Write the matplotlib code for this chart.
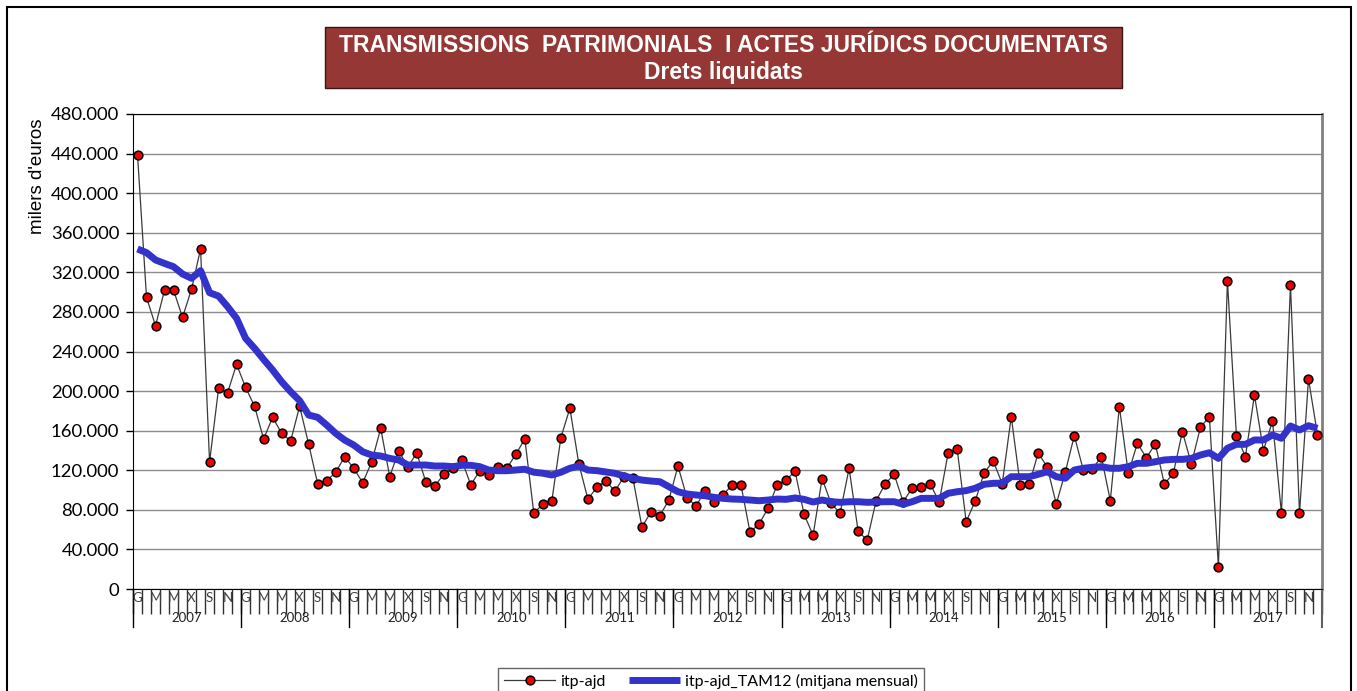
import numpy as np
import matplotlib
matplotlib.use("Agg")
import matplotlib.pyplot as plt
from matplotlib.patches import Rectangle
from matplotlib.ticker import FuncFormatter

W, H = 1357, 691

anys = [str(a) for a in range(2007, 2018)]
mesos = ['G', 'F', 'M', 'A', 'M', 'J', 'X', 'A', 'S', 'O', 'N', 'D']

# drets liquidats, milions d'euros (eix en milers d'euros)
itp_ajd = [
    438.9, 294.7, 266.0, 302.0, 302.0, 274.5, 303.0, 343.6, 128.3, 202.8, 198.4, 227.0,
    203.8, 184.6, 151.6, 173.5, 157.3, 149.6, 184.6, 146.5, 106.4, 109.5, 117.9, 133.7,
    122.0, 107.4, 128.3, 162.4, 113.5, 139.8, 123.0, 137.7, 108.4, 104.1, 115.9, 122.0,
    130.4, 105.1, 119.6, 115.5, 123.0, 122.0, 136.1, 151.6, 76.5, 85.9, 89.2, 152.9,
    182.6, 126.3, 90.9, 102.7, 109.5, 98.7, 113.5, 111.9, 62.6, 77.8, 74.1, 90.2,
    124.3, 92.3, 83.9, 99.0, 87.9, 95.0, 105.1, 105.1, 57.3, 65.7, 81.5, 105.1,
    110.0, 119.0, 75.5, 54.3, 111.5, 86.6, 76.5, 122.0, 58.6, 49.2, 89.2, 106.1,
    115.9, 88.2, 101.8, 102.8, 106.4, 87.9, 137.7, 141.2, 68.0, 88.9, 117.5, 129.3,
    106.4, 174.1, 105.1, 106.1, 137.7, 123.0, 85.9, 118.0, 155.0, 120.2, 121.0, 133.7,
    89.2, 184.3, 116.9, 147.2, 132.7, 146.5, 106.1, 116.9, 159.0, 126.3, 163.4, 174.1,
    22.5, 311.5, 154.9, 133.7, 196.0, 139.8, 169.8, 76.5, 307.5, 76.5, 212.2, 155.9,
]

tam12 = [
    343.6, 339.9, 332.5, 329.0, 325.7, 318.3, 314.0, 321.7, 299.4, 296.0, 285.3, 273.5,
    253.3, 243.2, 232.0, 221.3, 209.5, 199.4, 190.3, 175.8, 173.5, 165.7, 157.3, 150.5,
    145.5, 138.7, 135.4, 134.4, 132.0, 130.4, 125.3, 125.3, 125.3, 124.3, 124.3, 123.6,
    125.0, 125.0, 123.6, 120.2, 119.5, 119.5, 120.2, 121.0, 118.0, 117.0, 115.2, 118.0,
    122.0, 124.3, 120.2, 119.6, 118.2, 116.9, 114.2, 111.9, 110.1, 109.1, 108.4, 103.4,
    98.3, 96.0, 95.0, 94.3, 92.6, 91.6, 90.9, 90.6, 89.9, 89.2, 89.9, 90.9,
    90.6, 92.0, 90.6, 87.9, 89.9, 88.2, 87.6, 88.2, 88.2, 87.6, 87.9, 88.2,
    88.2, 85.6, 88.2, 91.6, 91.6, 91.6, 96.7, 98.3, 99.4, 101.8, 105.8, 106.8,
    107.0, 113.5, 113.5, 113.5, 115.9, 118.5, 113.5, 111.9, 120.2, 122.0, 123.0, 123.6,
    122.0, 122.0, 123.6, 127.0, 127.0, 128.6, 130.4, 131.0, 131.0, 132.0, 135.4, 137.7,
    132.0, 142.2, 146.2, 146.2, 150.6, 150.6, 155.6, 152.3, 164.7, 160.7, 165.0, 162.4,
]

y1 = np.array(itp_ajd) * 1000
y2 = np.array(tam12) * 1000
x = np.arange(len(y1))

fig = plt.figure(figsize=(W / 100, H / 100), dpi=100)
ax = fig.add_axes([133 / W, 1 - 589 / H, (1322 - 133) / W, (589 - 114) / H])

# marc exterior
fig.patches.append(Rectangle((7 / W, -0.05), (1351 - 7) / W, 1 - 7 / H + 0.05,
                             transform=fig.transFigure, fill=False,
                             edgecolor='black', lw=1.5))

# caixa del títol
fig.patches.append(Rectangle((325 / W, 1 - 88 / H), (1122 - 325) / W, 61 / H,
                             transform=fig.transFigure, facecolor='#953735',
                             edgecolor='#3a1515', lw=1))
tfont = ['Liberation Sans Narrow', 'Liberation Sans', 'DejaVu Sans']
fig.text(723 / W, 1 - 45 / H, "TRANSMISSIONS  PATRIMONIALS  I ACTES JURÍDICS DOCUMENTATS",
         ha='center', va='center', color='white', fontsize=16.5, fontweight='bold',
         family=tfont)
fig.text(723 / W, 1 - 72 / H, "Drets liquidats", ha='center', va='center',
         color='white', fontsize=16.5, fontweight='bold', family=tfont)

l1, = ax.plot(x, y1, color='#3a3a3a', lw=0.9, marker='o', ms=6.3,
              mfc='#ee0000', mec='black', mew=1.1, zorder=3, label='itp-ajd')
l2, = ax.plot(x, y2, color='#3333cc', lw=5, zorder=4, solid_capstyle='butt',
              label='itp-ajd_TAM12 (mitjana mensual)')

ax.set_xlim(-0.5, len(x) - 0.5)
ax.set_ylim(0, 480000)
ax.set_yticks(np.arange(0, 480001, 40000))
ax.yaxis.set_major_formatter(FuncFormatter(lambda v, p: f"{v:,.0f}".replace(',', '.')))
ax.grid(axis='y', color='#8c8c8c', lw=1)
ax.set_axisbelow(True)
ax.tick_params(axis='y', direction='out', length=5, width=1, labelsize=13.3, pad=5)
for t in ax.get_yticklabels():
    t.set_family(['Lato', 'DejaVu Sans'])

ax.set_xticks(np.arange(-0.5, len(x), 1))
ax.set_xticklabels([])
ax.tick_params(axis='x', direction='out', length=18, width=1, color='#303030')

ax.spines['left'].set_color('black')
ax.spines['top'].set_color('black')
ax.spines['right'].set_color('#808080')
ax.spines['right'].set_linewidth(2)
ax.spines['bottom'].set_color('black')

ax.set_ylabel("milers d'euros", fontsize=13.5, family=['Liberation Sans', 'DejaVu Sans'])
ax.yaxis.set_label_coords((46 - 133) / 1189, 0.87)

tr = ax.get_xaxis_transform()
hpx = 589 - 114
for i in range(0, len(x), 2):
    ax.text(x[i], -9 / hpx, mesos[i % 12], transform=tr, ha='center', va='center',
            fontsize=9.5, color='#404040', family=['Lato', 'DejaVu Sans'])
for k, a in enumerate(anys):
    ax.plot([12 * k - 0.5, 12 * k - 0.5], [0, -38 / hpx], transform=tr, color='black',
            lw=1, clip_on=False)
    ax.text(12 * k + 5.5, -29 / hpx, a, transform=tr, ha='center', va='center',
            fontsize=9.5, color='#202020', family=['Lato', 'DejaVu Sans'])
ax.plot([len(x) - 0.5] * 2, [0, -38 / hpx], transform=tr, color='#606060', lw=1.5,
        clip_on=False)

leg = fig.legend(handles=[l1, l2], loc='upper center', bbox_to_anchor=(711 / W, 1 - 660 / H),
                 ncol=2, frameon=True, fancybox=False, edgecolor='#404040',
                 prop={'family': ['Lato', 'DejaVu Sans'], 'size': 11.5},
                 handlelength=3.2, handletextpad=0.3, columnspacing=1.5,
                 borderpad=0.35)
leg.get_frame().set_linewidth(1)

fig.savefig('out.png', dpi=100)
